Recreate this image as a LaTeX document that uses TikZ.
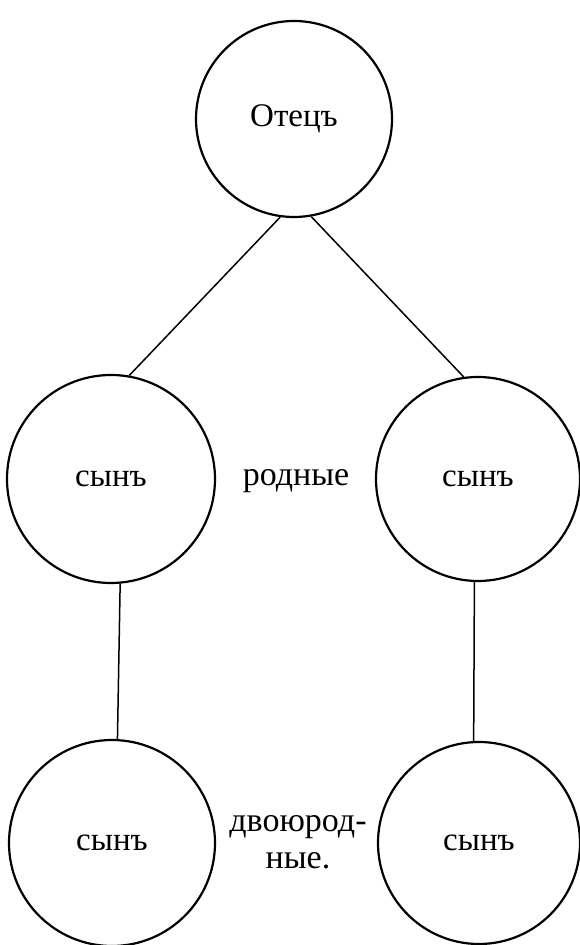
\documentclass[tikz,border=0pt]{standalone}
\usepackage{fontspec}
\setmainfont{Liberation Serif}
\usepackage{tikz}
\tikzstyle{vertex}=[circle, draw
%,fill=black!25
,line width=2.2pt
,inner sep=0pt
,font=\fontsize{33}{37}\selectfont
]
\tikzstyle{kin label} = [font=\fontsize{34}{37}\selectfont, align=center]
\tikzstyle{edge} = [draw,line width=1.5pt,-]

\begin{document}
\begin{tikzpicture}[x=1pt,y=1pt]
    \useasboundingbox (0,0) rectangle (580,945);
    % Draw the family tree
    % First the father, the sons and the grandsons
    \foreach \pos/\name/\diam/\word in {{(294,826)/O/196/Отецъ}, {(111,466)/S_1/208/сынъ}, {(478,466)/S_2/204/сынъ}, {(112,102)/V_1/206/сынъ}, {(479,102)/V_2/202/сынъ}}
        \node[vertex, minimum size=\diam pt] (\name) at \pos {\word};

    % Then the kinship words between them
    \node[kin label] (rodnye) at (296,464) {родные};
    \node[kin label] (dvoyurodnye) at (298,103) {двоюрод-\\ные.};

    % Connect father, sons and grandsons
    \foreach \source/ \dest in {O.-98/S_1.80, O.-80/S_2.98, S_1.-85/V_1.87, S_2.-92/V_2.93}
        \path[edge] (\source) -- (\dest) ;

\end{tikzpicture}
\end{document}
